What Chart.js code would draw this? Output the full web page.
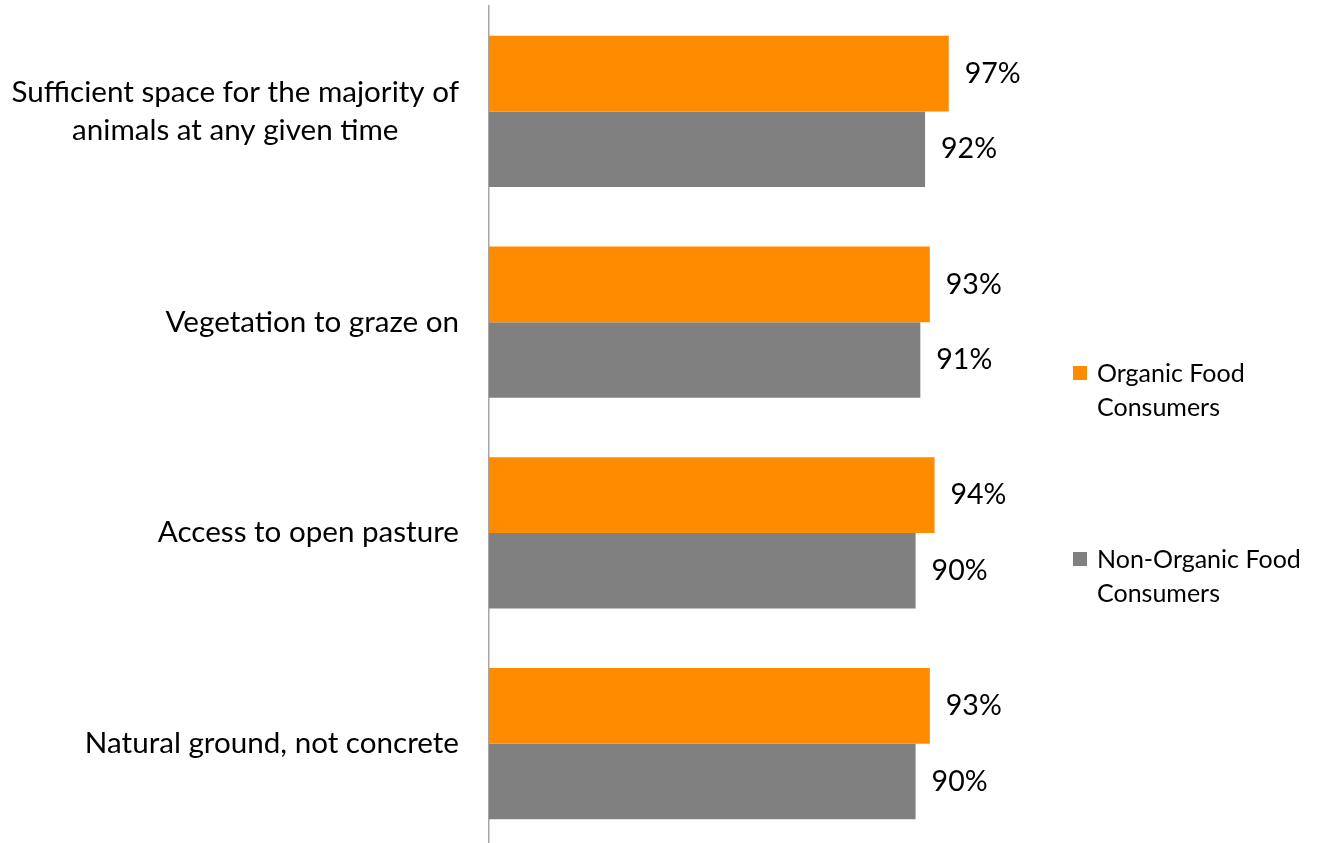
<!DOCTYPE html>
<html>
<head>
<meta charset="utf-8">
<script src="https://cdn.jsdelivr.net/npm/chart.js@4"></script>
<style>
  html, body { margin: 0; padding: 0; background: #fff; overflow: hidden; }
  #wrap { position: relative; width: 1319px; height: 850px; }
  .legend { position: absolute; left: 1073px; font-family: Lato, sans-serif; font-size: 25px; line-height: 34px; color: #000; }
  .legend .box { position: absolute; left: 0; top: 11px; width: 14px; height: 14px; }
  .legend .txt { margin-left: 24px; }
</style>
</head>
<body>
<div id="wrap">
  <canvas id="chart" width="1319" height="850"></canvas>
  <div class="legend" style="top:355px"><span class="box" style="background:#ff8c00"></span><div class="txt">Organic Food<br>Consumers</div></div>
  <div class="legend" style="top:541px"><span class="box" style="background:#808080"></span><div class="txt">Non-Organic Food<br>Consumers</div></div>
</div>
<script>
// ─── Data ─────────────────────────────────────────────────────────
const categories = [
    ['Sufficient space for the majority of', 'animals at any given time'],
    'Vegetation to graze on',
    'Access to open pasture',
    'Natural ground, not concrete'
];
const organic    = [97, 93, 94, 93];
const nonOrganic = [92, 91, 90, 90];

const ORANGE = '#ff8c00';
const GREY   = '#808080';
const FONT   = 'Lato, sans-serif';

// ─── Category labels: centred block, right-aligned to the axis ────
const categoryLabels = {
    id: 'categoryLabels',
    afterDraw(chart) {
        const ctx = chart.ctx;
        const y = chart.scales.y;
        const right = chart.chartArea.left - 30;
        const lh = 38;
        ctx.save();
        ctx.font = '29.6px ' + FONT;
        ctx.fillStyle = '#000';
        ctx.textBaseline = 'middle';
        ctx.textAlign = 'center';
        categories.forEach((label, i) => {
            const lines = Array.isArray(label) ? label : [label];
            const w = Math.max(...lines.map(l => ctx.measureText(l).width));
            const cy = y.getPixelForTick(i);
            const top = cy - (lines.length - 1) * lh / 2;
            lines.forEach((l, k) => ctx.fillText(l, right - w / 2, top + k * lh));
        });
        ctx.restore();
    }
};

// ─── Value labels after each bar ──────────────────────────────────
const valueLabels = {
    id: 'valueLabels',
    afterDatasetsDraw(chart) {
        const ctx = chart.ctx;
        ctx.save();
        ctx.font = '28.5px ' + FONT;
        ctx.fillStyle = '#000';
        ctx.textBaseline = 'middle';
        ctx.textAlign = 'left';
        chart.data.datasets.forEach((ds, di) => {
            chart.getDatasetMeta(di).data.forEach((bar, i) => {
                ctx.fillText(ds.data[i] + '%', bar.x + 16, bar.y);
            });
        });
        ctx.restore();
    }
};

new Chart(document.getElementById('chart'), {
    type: 'bar',
    data: {
        labels: categories,
        datasets: [
            { label: 'Organic Food Consumers', data: organic, backgroundColor: ORANGE },
            { label: 'Non-Organic Food Consumers', data: nonOrganic, backgroundColor: GREY }
        ]
    },
    options: {
        indexAxis: 'y',
        responsive: false,
        animation: false,
        layout: { padding: { top: 6, right: 356, bottom: 1, left: 0 } },
        datasets: { bar: { categoryPercentage: 0.717, barPercentage: 1.0 } },
        plugins: { legend: { display: false }, tooltip: { enabled: false } },
        scales: {
            x: { display: false, min: 0, max: 100 },
            y: {
                grid: { display: false },
                ticks: { display: false },
                border: { display: true, color: '#a6a6a6', width: 1.5 },
                afterFit: s => { s.width = 489; }
            }
        }
    },
    plugins: [categoryLabels, valueLabels]
});
</script>
</body>
</html>
